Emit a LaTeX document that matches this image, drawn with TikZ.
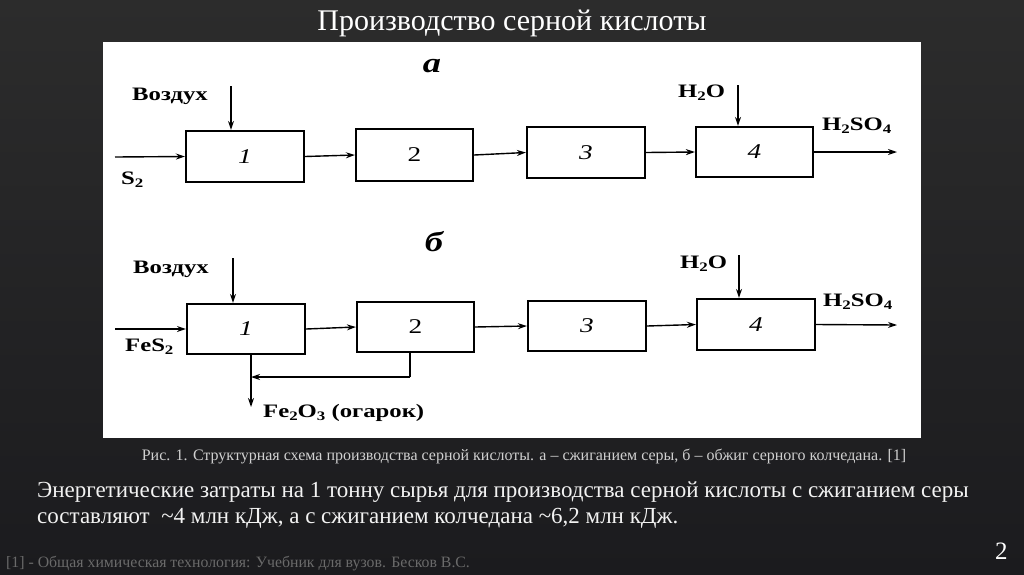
\documentclass[tikz,border=0pt]{standalone}
\usepackage{fontspec}
\setmainfont{Liberation Serif}
\newfontfamily\diagf[FakeStretch=1.3]{Liberation Serif}
\usetikzlibrary{arrows.meta}
\definecolor{bgtop}{HTML}{2C2C2C}
\definecolor{bgbot}{HTML}{1B1B1E}
\definecolor{capc}{HTML}{D0D0D0}
\definecolor{footc}{HTML}{6A6A6A}
\definecolor{bodyc}{HTML}{F2F2F2}
\newcommand{\lowix}[1]{\raisebox{-3.5pt}{\fontsize{13}{13}\selectfont #1}}
\begin{document}
\begin{tikzpicture}[x=1pt,y=-1pt,
  blk/.style={draw=black,line width=2.2pt,minimum width=117pt,minimum height=50pt,inner sep=0pt,fill=white,
    font=\diagf\fontsize{21}{22}\selectfont},
  flow/.style={line width=1.4pt,-{Stealth[length=9pt,width=6pt]}},
  plain/.style={line width=1.4pt},
  lbl/.style={font=\diagf\bfseries\fontsize{19}{20}\selectfont,inner sep=0pt,anchor=base west},
  part/.style={font=\diagf\bfseries\itshape\fontsize{28}{30}\selectfont,inner sep=0pt}]
\useasboundingbox (0,0) rectangle (1024,574);
\shade[top color=bgtop,bottom color=bgbot] (0,0) rectangle (1024,574);
% title
\node[anchor=base,text=white,inner sep=0pt,font=\fontsize{30}{32}\selectfont] (title) at (512,30) {Производство серной кислоты};
% white panel
\fill[white] (103,42) rectangle (921,438);
% ---- diagram a ----
\node[part] (pa) at (432,66) {а};
\node[blk,minimum width=118pt,minimum height=51pt] (a1) at (245,156.5) {\itshape 1};
\node[blk,minimum height=52pt] (a2) at (414.5,155) {2};
\node[blk,minimum width=118pt,minimum height=51pt] (a3) at (586,152.5) {\itshape 3};
\node[blk] (a4) at (754.5,152) {\itshape 4};
\coordinate (sa) at (115,157);
\coordinate (airA) at (231,86);
\coordinate (wA) at (738,85);
\coordinate (outA) at (897,152);
\draw[flow] (sa) -- (a1.west);
\draw[flow] (airA) -- (airA |- a1.north);
\draw[flow] (a1.east) -- (a2.west);
\draw[flow] (a2.east) -- (a3.west);
\draw[flow] (a3.east) -- (a4.west);
\draw[flow] (wA) -- (wA |- a4.north);
\draw[flow] (a4.east) -- (outA);
\node[lbl] (s2) at (121,184) {S\lowix{2}};
\node[lbl] (airAl) at (132,100) {Воздух};
\node[lbl] (wAl) at (678,97) {H\lowix{2}O};
\node[lbl] (oAl) at (822,130) {H\lowix{2}SO\lowix{4}};
% ---- diagram b ----
\node[part] (pb) at (434,242) {б};
\node[blk,minimum width=118pt] (b1) at (246,329) {\itshape 1};
\node[blk] (b2) at (415.5,327) {2};
\node[blk,minimum width=118pt] (b3) at (587,326) {\itshape 3};
\node[blk,minimum width=118pt,minimum height=51pt] (b4) at (756,324.5) {\itshape 4};
\coordinate (sb) at (115,329);
\coordinate (airB) at (233,258);
\coordinate (wB) at (739,255);
\coordinate (outB) at (897,325);
\coordinate (r1) at (410,377);
\coordinate (fe) at (251,407);
\draw[flow] (sb) -- (b1.west);
\draw[flow] (airB) -- (airB |- b1.north);
\draw[flow] (b1.east) -- (b2.west);
\draw[flow] (b2.east) -- (b3.west);
\draw[flow] (b3.east) -- (b4.west);
\draw[flow] (wB) -- (wB |- b4.north);
\draw[flow] (b4.east) -- (outB);
\draw[plain] (b2.south -| r1) -- (r1);
\draw[flow] (r1) -- (fe |- r1);
\draw[flow] (b1.south -| fe) -- (fe);
\node[lbl] (fes) at (125,351) {FeS\lowix{2}};
\node[lbl] (airBl) at (133,273) {Воздух};
\node[lbl] (wBl) at (680,268) {H\lowix{2}O};
\node[lbl] (oBl) at (823,306) {H\lowix{2}SO\lowix{4}};
\node[lbl] (fe2o3) at (263,417) {Fe\lowix{2}O\lowix{3} (огарок)};
% caption
\node[anchor=base,text=capc,inner sep=0pt,font=\fontsize{16}{17}\selectfont] (cap) at (524,460)
  {Рис. 1. Структурная схема производства серной кислоты. а – сжиганием серы, б – обжиг серного колчедана. [1]};
% body
\node[anchor=base west,text=bodyc,inner sep=0pt,font=\fontsize{23}{24}\selectfont] (body1) at (37,497)
  {Энергетические затраты на 1 тонну сырья для производства серной кислоты с сжиганием серы};
\node[anchor=base west,text=bodyc,inner sep=0pt,font=\fontsize{23}{24}\selectfont] (body2) at (37,523)
  {составляют\ \ \textasciitilde4 млн кДж, а с сжиганием колчедана \textasciitilde6,2 млн кДж.};
% footer
\node[anchor=base west,text=footc,inner sep=0pt,font=\fontsize{15.8}{16}\selectfont] (foot) at (6,567)
  {[1] - Общая химическая технология: Учебник для вузов. Бесков В.С.};
\node[anchor=base west,text=white,inner sep=0pt,font=\fontsize{25}{26}\selectfont] (pg) at (995,559) {2};
\end{tikzpicture}
\end{document}
